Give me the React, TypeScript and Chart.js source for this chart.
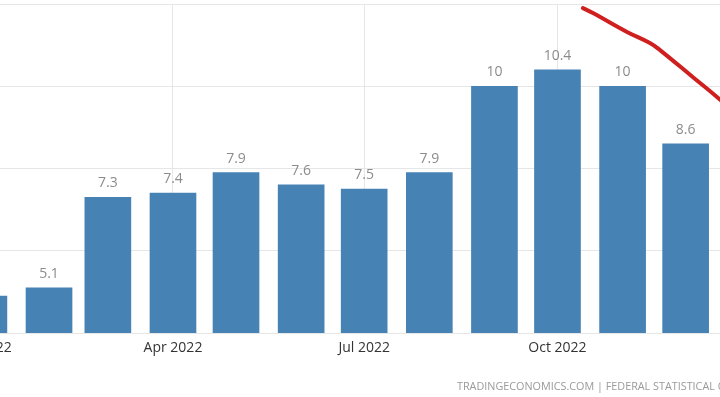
import React, { useEffect, useRef } from "react";
import { Chart, registerables } from "chart.js";

Chart.register(...registerables);

// Months as day offsets from 1 Jan 2022 (time-proportional spacing)
const monthDays = [0, 31, 59, 90, 120, 151, 181, 212, 243, 273, 304, 334];
const inflation = [4.9, 5.1, 7.3, 7.4, 7.9, 7.6, 7.5, 7.9, 10, 10.4, 10, 8.6];
const tickDays = [0, 90, 181, 273];
const tickLabels = ["Jan 2022", "Apr 2022", "Jul 2022", "Oct 2022"];
const yTicks = [4, 6, 8, 10, 12];
// Hand-drawn red annotation stroke (days, value)
const strokeDays = [285.1, 289.9, 306.1, 317.0, 321.8, 337.5, 348.9, 359.9];
const strokeValues = [11.9, 11.78, 11.32, 11.05, 10.88, 10.22, 9.74, 9.25];

const FONT = "'Open Sans', 'Noto Sans', sans-serif";

const valueLabels = {
  id: "valueLabels",
  afterDatasetsDraw(chart: any) {
    const ctx = chart.ctx;
    const meta = chart.getDatasetMeta(0);
    ctx.save();
    ctx.font = `14px ${FONT}`;
    ctx.fillStyle = "#8c8c8c";
    ctx.textAlign = "center";
    ctx.textBaseline = "bottom";
    meta.data.forEach((bar: any, i: number) => {
      ctx.fillText(String(inflation[i]), bar.x, bar.y - 7);
    });
    ctx.restore();
  },
};

export default function App() {
  const ref = useRef<HTMLCanvasElement | null>(null);

  useEffect(() => {
    if (!ref.current) return;
    const chart = new Chart(ref.current, {
      type: "bar",
      data: {
        datasets: [
          {
            type: "bar",
            data: monthDays.map((d, i) => ({ x: d, y: inflation[i] })),
            backgroundColor: "#4682b4",
            barThickness: 46,
            order: 2,
          } as any,
          {
            type: "line",
            data: strokeDays.map((d, i) => ({ x: d, y: strokeValues[i] })),
            borderColor: "#d01f1f",
            borderWidth: 4,
            pointRadius: 0,
            tension: 0.4,
            borderCapStyle: "round",
            borderJoinStyle: "round",
            fill: false,
            clip: false,
            order: 1,
          } as any,
        ],
      },
      options: {
        responsive: false,
        animation: false,
        layout: { padding: { left: 10, right: 10, top: 4, bottom: 0 } },
        plugins: { legend: { display: false }, tooltip: { enabled: false } },
        scales: {
          x: {
            type: "linear",
            min: -20.89,
            max: 397.95,
            offset: false,
            afterBuildTicks: (scale: any) => {
              scale.ticks = tickDays.map((v) => ({ value: v }));
            },
            afterFit: (scale: any) => {
              scale.height = 64;
            },
            ticks: {
              autoSkip: false,
              maxRotation: 0,
              padding: 7,
              color: "#333",
              font: { family: FONT, size: 14 },
              callback: (v: any) => {
                const idx = tickDays.indexOf(Number(v));
                return idx >= 0 ? tickLabels[idx] : "";
              },
            },
            grid: { color: "#e6e6e6", drawTicks: false, offset: false },
            border: { display: false },
          },
          y: {
            min: 4,
            max: 12,
            afterBuildTicks: (scale: any) => {
              scale.ticks = yTicks.map((v) => ({ value: v }));
            },
            afterFit: (scale: any) => {
              scale.width = 0;
            },
            ticks: { display: false },
            grid: { color: "#e6e6e6", drawTicks: false },
            border: { display: false },
          },
        },
      },
      plugins: [valueLabels],
    });
    return () => chart.destroy();
  }, []);

  return (
    <div
      style={{
        position: "fixed",
        left: 0,
        top: 0,
        width: 720,
        height: 397,
        overflow: "hidden",
        background: "#fff",
      }}
    >
      <canvas
        ref={ref}
        width={900}
        height={397}
        style={{ position: "absolute", left: -70, top: 0 }}
      />
      <div
        style={{
          position: "absolute",
          left: 457,
          top: 378,
          whiteSpace: "nowrap",
          fontFamily: FONT,
          fontSize: 10.8,
          color: "#9a9a9a",
        }}
      >
        TRADINGECONOMICS.COM | FEDERAL STATISTICAL OFFICE
      </div>
    </div>
  );
}
